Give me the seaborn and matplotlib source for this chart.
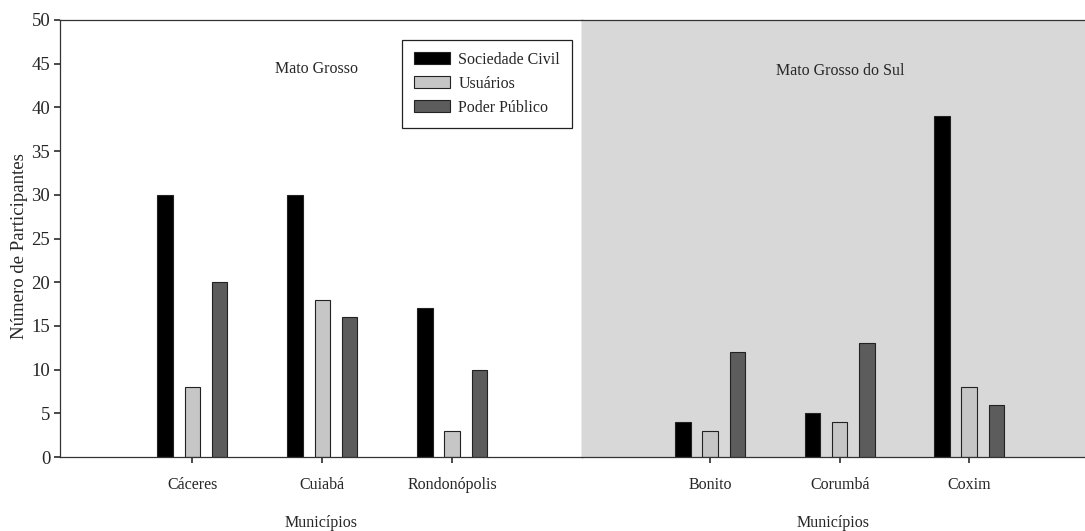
import matplotlib
matplotlib.use("Agg")
import matplotlib.pyplot as plt
import pandas as pd
import seaborn as sns

grupos = ["Sociedade Civil", "Usuários", "Poder Público"]
cores = ["#000000", "#c6c6c6", "#5c5c5c"]

mt_municipios = ["Cáceres", "Cuiabá", "Rondonópolis"]
mt_sociedade = [30, 30, 17]
mt_usuarios = [8, 18, 3]
mt_poder = [20, 16, 10]

ms_municipios = ["Bonito", "Corumbá", "Coxim"]
ms_sociedade = [4, 5, 39]
ms_usuarios = [3, 4, 8]
ms_poder = [12, 13, 6]


def long_df(municipios, soc, usu, pod):
    rows = []
    for serie, vals in zip(grupos, [soc, usu, pod]):
        for m, v in zip(municipios, vals):
            rows.append({"municipio": m, "grupo": serie, "valor": v})
    return pd.DataFrame(rows)


sns.set_theme(style="ticks")
plt.rcParams["font.family"] = ["Liberation Serif", "DejaVu Serif"]

fig = plt.figure(figsize=(10.85, 5.31), dpi=100)
W, H = 1085, 531
bottom = (H - 457) / H
height = 437 / H
ax1 = fig.add_axes([60 / W, bottom, 522 / W, height])
ax2 = fig.add_axes([582 / W, bottom, 503 / W, height])

paineis = [
    (ax1, long_df(mt_municipios, mt_sociedade, mt_usuarios, mt_poder),
     "Mato Grosso", (0.492, 0.887), "white", (-1.02, 3.0)),
    (ax2, long_df(ms_municipios, ms_sociedade, ms_usuarios, ms_poder),
     "Mato Grosso do Sul", (0.513, 0.883), "#d8d8d8", (-0.99, 2.895)),
]

for ax, df, titulo, pos, fundo, xlim in paineis:
    sns.barplot(
        data=df, x="municipio", y="valor", hue="grupo", hue_order=grupos,
        palette=cores, width=0.63, gap=0.43, edgecolor="#222222",
        linewidth=0.8, ax=ax, legend=(ax is ax1),
    )
    ax.set_facecolor(fundo)
    ax.set_xlim(*xlim)
    ax.set_ylim(0, 50)
    ax.set_xlabel("Municípios", fontsize=11.5, labelpad=16)
    ax.tick_params(axis="x", length=4.5, pad=10, labelsize=11.5, color="#333333")
    ax.tick_params(axis="y", length=4, pad=3, labelsize=13.5, color="#333333")
    ax.text(pos[0], pos[1], titulo, transform=ax.transAxes, ha="center",
            va="center", fontsize=11.5)
    for s in ax.spines.values():
        s.set_linewidth(0.9)
        s.set_color("#333333")

ax1.set_yticks(range(0, 51, 5))
ax1.set_ylabel("Número de Participantes", fontsize=13.5)
ax1.yaxis.set_label_coords(-0.062, 0.483)
ax1.spines["right"].set_color("#666666")
ax2.set_ylabel("")
ax2.set_yticks([])
ax2.spines["left"].set_visible(False)
ax2.spines["right"].set_visible(False)

leg = ax1.legend(
    loc="upper right", bbox_to_anchor=(0.981, 0.955), frameon=True,
    fancybox=False, edgecolor="#222222", framealpha=1, fontsize=11.5,
    handlelength=2.3, handleheight=0.85, handletextpad=0.5,
    borderpad=0.75, labelspacing=0.5, borderaxespad=0,
)
leg.get_frame().set_linewidth(0.9)

fig.savefig("out.png", dpi=100)
